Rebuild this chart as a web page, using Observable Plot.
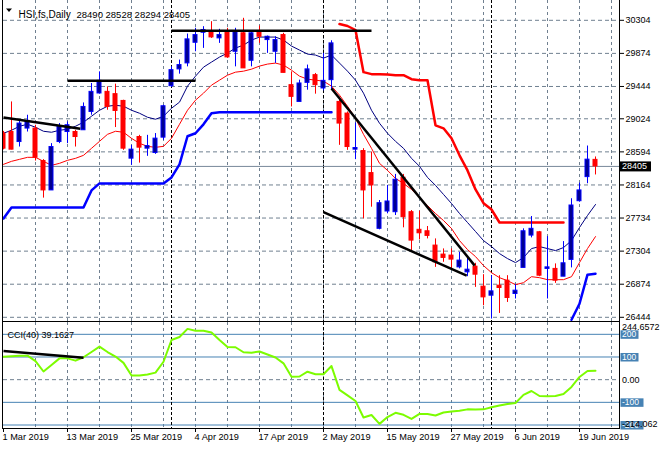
<!DOCTYPE html>
<html>
<head>
<meta charset="utf-8">
<script src="https://cdn.jsdelivr.net/npm/d3@7"></script>
<script src="https://cdn.jsdelivr.net/npm/@observablehq/plot@0.6"></script>
<style>
html,body{margin:0;padding:0;background:#fff;}
#chart{position:relative;width:660px;height:450px;overflow:hidden;background:#fff;}
#chart svg{position:absolute;left:0;}
</style>
</head>
<body>
<div id="chart"></div>
<script>
// ---------- data (bar index 0 = 1 Mar 2019, one bar per trading day) ----------
const symbolName = "HSI,fs,Daily";
const opens  = [28832,28852,28722,28897,28897,28475,28093,28722,28852,28852, 28875,29113,29353,29374,29344,29256,28506,28787,28636,28579, 28779,29448,29666,29744,30012,30142,30155,30069,30155,29895, 30135,29778,30155,30047,29895,30112,29461,29243,29491,29591, 29418,29526,29243,29092,28623,28605,28318,27594,27819,27810, 28258,27810,27581,27562,27376,27259,27246,27093,27028,27102, 26842,26725,26855,26920,26747,27086,27506,27549,27073,27073, 26972,27190,27953,28266,28490];
const highs  = [28860,29243,29005,29070,28940,28493,28701,28962,28983,28875, 29230,29483,29634,29439,29474,29265,28679,28809,28809,28832, 29200,29699,29787,30125,30200,30221,30286,30187,30200,30200, 30330,30155,30230,30099,30090,30135,29634,29526,29722,29613, 29874,30038,29305,29113,28970,28636,28592,27962,28158,28301, 28301,27832,27823,27624,27463,27333,27333,27289,27233,27146, 26998,26985,26985,26985,26868,27594,27754,27560,27493,27138, 27428,27985,28188,28670,28528];
const lows   = [28620,28620,28657,28852,28475,27993,28093,28701,28701,28657, 28875,29070,29344,29135,28910,28614,28419,28448,28536,28562, 28744,29431,29604,29699,29895,29939,30069,30004,29809,29699, 29679,29699,30004,29874,29744,29621,29178,29243,29396,29344, 29387,29405,28679,28614,28493,27724,27875,27581,27789,27767, 27607,27311,27450,27463,27093,27159,27073,27073,26972,26833, 26594,26421,26494,26637,26682,27086,27476,26972,26682,26885, 26972,27086,27940,28180,28294];
const closes = [28636,28623,28962,28996,28519,28093,28657,28918,28940,28787, 29178,29374,29517,29178,29126,28636,28623,28649,28670,28766, 29187,29656,29722,30056,30112,30178,30082,30112,29822,30155, 29679,30135,30090,30090,30047,29621,29309,29483,29666,29461, 29517,30004,28962,28657,28644,28093,28158,27927,27949,28232, 27745,27441,27536,27502,27159,27216,27194,27181,27063,26998, 26703,26781,26825,26695,26790,27562,27594,26985,27093,26920, 27146,27897,28093,28493,28405];

// navy moving average
const maNavy = [28836,28875,28927,28953,28914,28862,28849,28875,28888,28927, 28979,29057,29135,29187,29200,29187,29135,29096,29044,29018, 29057,29161,29240,29448,29578,29695,29761,29826,29878,29943, 29982,30047,30086,30086,30086,30047,29969,29917,29865,29852, 29813,29852,29748,29643,29526,29357,29135,28966,28836,28731, 28640,28510,28406,28262,28158,28041,27923,27793,27676,27559, 27441,27363,27272,27207,27155,27220,27337,27363,27337,27311, 27350,27441,27611,27767,27910];
// red moving average
const maRed = [28432,28471,28497,28523,28523,28471,28419,28445,28484,28510, 28549,28640,28731,28822,28862,28849,28770,28705,28666,28653, 28666,28770,28953,29135,29266,29357,29461,29526,29591,29630, 29643,29669,29709,29735,29748,29722,29656,29578,29539,29526, 29513,29448,29331,29187,29031,28822,28640,28445,28353,28249, 28184,28106,28002,27897,27793,27702,27598,27441,27324,27233, 27116,27024,26959,26920,26868,26894,26972,26959,26933,26933, 26933,26972,27155,27337,27493];

// thick blue lower stop (two runs) and thick red upper stop
const lowerStopAStart = 0;
const lowerStopA = [27728,27871,27871,27871,27871,27871,27871,27871,27871,27871, 27871,28093,28184,28184,28184,28184,28184,28184,28184,28184, 28184,28262,28432,28797,28836,28952,29096,29109,29109,29109, 29109,29109,29109,29109,29109,29109,29109,29109,29109,29109, 29109,29109];
const lowerStopBStart = 71;
const lowerStopB = [26412,26620,26998,27011];
const upperStopStart = 42;
const upperStop = [30256,30230,30178,29630,29604,29604,29598,29591,29591,29539, 29526,29526,28939,28900,28770,28549,28353,28106,27927,27845, 27676,27676,27676,27676,27676,27676,27676,27676,27676];

// hand-drawn trend lines (bar index, price)
const trendI1 = [0,    8,     21,    41,    40];
const trendP1 = [29040,29517, 30168, 29418, 27810];
const trendI2 = [9.6,  24,    46,    58.9,  57.9];
const trendP2 = [28894,29517, 30168, 27116, 26985];

// CCI(40)
const cci = [101,103,105,106,82,36,65,94,94,84, 99,122,146,122,102,74,18,18,23,31, 79,175,188,224,216,216,208,175,144,143, 121,119,124,111,98,72,13,14,35,24, 24,60,-45,-69,-94,-167,-156,-195,-165,-146, -155,-173,-151,-151,-158,-145,-140,-137,-131,-132, -131,-122,-114,-107,-103,-67,-50,-72,-73,-72, -63,-32,12,38,39.1627];
const cciTrendI = [0, 10];
const cciTrendV = [126.6, 97];
const cciLevels = [200, 100, -100, -200];
const cciMax = 244.6572, cciMin = -214.062;

// axes
const priceTicks = [30304,29874,29444,29024,28594,28164,27734,27304,26874,26444];
const dateTickIdx = [0,8,16,24,32,40,48,56,64,72];
const dateLabels = ["1 Mar 2019","13 Mar 2019","25 Mar 2019","4 Apr 2019","17 Apr 2019","2 May 2019","15 May 2019","27 May 2019","6 Jun 2019","19 Jun 2019"];
const gridIdx = [4,8,12,16,20,24,28,32,36,40,44,48,52,56,60,64,68,72,76];
const monthIdx = [21,40,61];

// ---------- build ----------
const bars = opens.map((o,i)=>({i, o, h:highs[i], l:lows[i], c:closes[i], up: closes[i] >= o}));
const run = (arr, start) => arr.map((v,k)=>({i:start+k, v}));
const trends = trendI1.map((d,k)=>({i1:d, p1:trendP1[k], i2:trendI2[k], p2:trendP2[k]}));
const last = bars[bars.length-1];

const FONT = "'Liberation Sans', Arial, sans-serif";
const GRID = "#708090";
const xScale = {domain:[0,77], range:[3,619], axis:null};
const baseStyle = {fontFamily: FONT, fontSize: "9px", color: "black", background: "transparent", overflow: "visible"};

const main = Plot.plot({
  width: 660, height: 322,
  marginLeft: 3, marginRight: 41, marginTop: 0, marginBottom: 0,
  style: baseStyle,
  x: xScale,
  y: {domain:[26444,30304], range:[316.8,19.8], axis:null},
  color: {type:"identity"},
  marks: [
    Plot.ruleY(priceTicks, {stroke: GRID, strokeDasharray: "4,3"}),
    Plot.ruleX(gridIdx, {stroke: GRID, strokeDasharray: "3,3"}),
    Plot.ruleX(monthIdx, {stroke: "black", strokeDasharray: "3,2"}),
    Plot.ruleY([last.c], {stroke: "#778899"}),
    Plot.line(run(lowerStopA, lowerStopAStart), {x:"i", y:"v", stroke:"#0000ff", strokeWidth:2.5, clip:true}),
    Plot.line(run(lowerStopB, lowerStopBStart), {x:"i", y:"v", stroke:"#0000ff", strokeWidth:2.5, clip:true}),
    Plot.line(run(upperStop, upperStopStart), {x:"i", y:"v", stroke:"#ff0000", strokeWidth:2.5, clip:true}),
    Plot.line(run(maNavy, 0), {x:"i", y:"v", stroke:"#000080", strokeWidth:1, clip:true}),
    Plot.line(run(maRed, 0), {x:"i", y:"v", stroke:"#ff0000", strokeWidth:1, clip:true}),
    Plot.ruleX(bars, {x:"i", y1:"l", y2:"h", stroke: d => d.up ? "#0000ff" : "#ff0000", clip:true}),
    Plot.rect(bars, {x1: d => d.i - 0.25, x2: d => d.i + 0.25, y1:"o", y2:"c",
      fill: d => d.up ? "#000090" : "#ff0000", stroke: d => d.up ? "#0000ff" : "#ff0000", strokeWidth:1, clip:true}),
    Plot.link(trends, {x1:"i1", y1:"p1", x2:"i2", y2:"p2", stroke:"black", strokeWidth:2.5}),
    Plot.axisY(priceTicks, {anchor:"right", tickSize:4, tickPadding:2, tickFormat: d => String(d), fill:"black", stroke:"black"}),
    Plot.text([symbolName], {frameAnchor:"top-left", dx:15, dy:10.5, textAnchor:"start", fontSize:10, fill:"black"}),
    Plot.text([[last.o,last.h,last.l,last.c].join(" ")], {frameAnchor:"top-left", dx:73, dy:10.5, textAnchor:"start", fontSize:9.5, fill:"black"})
  ]
});
main.style.top = "0px";
document.getElementById("chart").appendChild(main);

const cciData = cci.map((v,i)=>({i, v}));
const cciPlot = Plot.plot({
  width: 660, height: 128,
  marginLeft: 3, marginRight: 41, marginTop: 0, marginBottom: 21,
  style: baseStyle,
  x: xScale,
  y: {domain:[cciMin, cciMax], range:[105.7, 1.7], axis:null},
  marks: [
    Plot.ruleX(gridIdx, {stroke: GRID, strokeDasharray: "3,3"}),
    Plot.ruleY([0], {stroke: GRID, strokeDasharray: "4,3"}),
    Plot.ruleY(cciLevels, {stroke: "#4682b4"}),
    Plot.ruleX(monthIdx, {stroke: "black", strokeDasharray: "3,2"}),
    Plot.line(cciData, {x:"i", y:"v", stroke:"#7cfc00", strokeWidth:2, clip:true}),
    Plot.link([{i1:cciTrendI[0], v1:cciTrendV[0], i2:cciTrendI[1], v2:cciTrendV[1]}], {x1:"i1", y1:"v1", x2:"i2", y2:"v2", stroke:"black", strokeWidth:2.5}),
    Plot.axisX(dateTickIdx, {anchor:"bottom", tickSize:3, tickFormat: () => "", stroke:"black"}),
    Plot.text(dateTickIdx, {x: d => d, text: (d,k) => dateLabels[k], frameAnchor:"bottom", dy:10.5, dx:-1, textAnchor:"start", fill:"black", fontSize:9.2}),
    Plot.text([`CCI(40) ${cci[cci.length-1].toFixed(4)}`], {frameAnchor:"top-left", dx:4, dy:9, textAnchor:"start", fill:"black"})
  ]
});
cciPlot.style.top = "322px";
document.getElementById("chart").appendChild(cciPlot);

// ---------- decorations using the plots' own scales ----------
(function(){
  const svgM = d3.select(main);
  const yM = main.scale("y");
  // header triangle
  svgM.append("path").attr("d","M6,8.5 L12,8.5 L9,12 Z").attr("fill","black");
  // left / right borders
  svgM.append("line").attr("x1",2.5).attr("x2",2.5).attr("y1",0).attr("y2",322).attr("stroke","black");
  svgM.append("line").attr("x1",619.5).attr("x2",619.5).attr("y1",0).attr("y2",322).attr("stroke","black");
  svgM.append("line").attr("x1",2).attr("x2",620).attr("y1",321.5).attr("y2",321.5).attr("stroke","black");
  // last price box
  const yp = yM.apply(last.c) + 0.5;
  svgM.append("rect").attr("x",620).attr("y",yp-5).attr("width",31).attr("height",10).attr("fill","black");
  svgM.append("text").attr("x",622).attr("y",yp).attr("dy","0.32em").attr("fill","white").attr("text-anchor","start")
    .style("font-family",FONT).style("font-size","9px").text(String(last.c));

  const svgC = d3.select(cciPlot);
  const yC = cciPlot.scale("y");
  svgC.append("line").attr("x1",2.5).attr("x2",2.5).attr("y1",0).attr("y2",107).attr("stroke","black");
  svgC.append("line").attr("x1",619.5).attr("x2",619.5).attr("y1",0).attr("y2",107).attr("stroke","black");
  svgC.append("line").attr("x1",2).attr("x2",620).attr("y1",106.5).attr("y2",106.5).attr("stroke","black");
  cciLevels.forEach(v => {
    const y = yC.apply(v) + 0.5;
    const label = String(v);
    const w = label.length * 5 + 3;
    svgC.append("rect").attr("x",620.5).attr("y",y-4).attr("width",w).attr("height",8.5).attr("fill","#4682b4");
    svgC.append("text").attr("x",622).attr("y",y).attr("dy","0.34em").attr("fill","white").attr("text-anchor","start")
      .style("font-family",FONT).style("font-size","8.5px").text(label);
  });
  const lab = (v, txt, dy) => svgC.append("text").attr("x",622).attr("y",yC.apply(v)+0.5).attr("dy",dy).attr("fill","black")
      .attr("text-anchor","start").style("font-family",FONT).style("font-size","9px").text(txt);
  lab(cciMax, String(cciMax), "0.6em");
  lab(0, "0.00", "0.34em");
  lab(cciMin, String(cciMin), "-0.15em");
})();
</script>
</body>
</html>
